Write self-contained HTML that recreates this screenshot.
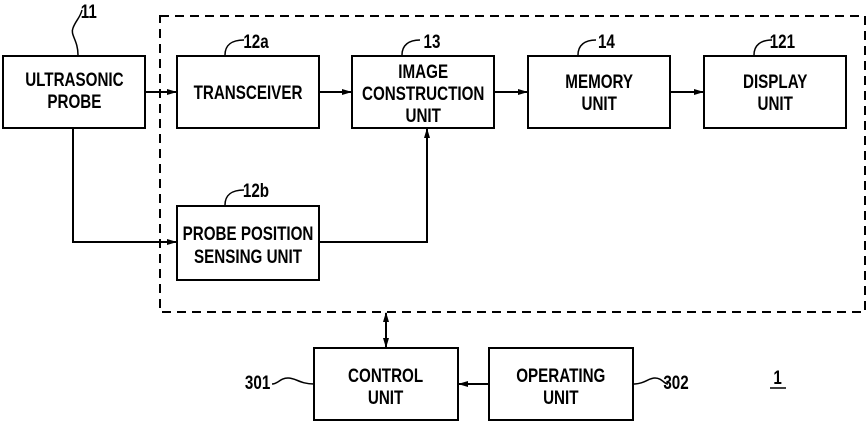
<!DOCTYPE html>
<html><head><style>body{margin:0;background:#fff}svg{display:block}</style></head><body>
<svg width="868" height="422" viewBox="0 0 868 422" xmlns="http://www.w3.org/2000/svg" font-family="Liberation Sans, Arial, sans-serif" font-size="16">
<defs><marker id="a" markerWidth="10" markerHeight="8" refX="9" refY="4" orient="auto" markerUnits="userSpaceOnUse"><path d="M0,1 L10,4 L0,7 z" fill="#000"/></marker>
<marker id="b" markerWidth="10" markerHeight="8" refX="9" refY="4" orient="auto-start-reverse" markerUnits="userSpaceOnUse"><path d="M0,1 L10,4 L0,7 z" fill="#000"/></marker></defs>
<g fill="none" stroke="#000" stroke-width="2">
<rect x="160" y="16" width="705" height="296" stroke-dasharray="9,6"/>
<rect x="3" y="56" width="142" height="72"/>
<rect x="177" y="56" width="142" height="72"/>
<rect x="352" y="56" width="142" height="72"/>
<rect x="528" y="56" width="142" height="72"/>
<rect x="704" y="56" width="142" height="72"/>
<rect x="177" y="206" width="142" height="74"/>
<rect x="314" y="348" width="144" height="72"/>
<rect x="489" y="348" width="144" height="72"/>
<line x1="145" y1="92" x2="176" y2="92" marker-end="url(#a)"/>
<line x1="319" y1="92" x2="351" y2="92" marker-end="url(#a)"/>
<line x1="494" y1="92" x2="527" y2="92" marker-end="url(#a)"/>
<line x1="670" y1="92" x2="703" y2="92" marker-end="url(#a)"/>
<polyline points="73,128 73,242 176,242" marker-end="url(#a)"/>
<polyline points="319,242 427,242 427,129" marker-end="url(#a)"/>
<line x1="386" y1="313" x2="386" y2="347" marker-start="url(#b)" marker-end="url(#b)"/>
<line x1="489" y1="384" x2="459" y2="384" marker-end="url(#a)"/>
<g stroke-width="1.5">
<path d="M78,55 C78,40 70,35 73,28 C76,20 80,18 82,10"/>
<path d="M225,55 C225,45 232,40 244,40"/>
<path d="M402,55 C402,45 409,40 420,40"/>
<path d="M578,55 C578,45 585,40 596,40"/>
<path d="M754,55 C754,45 761,40 772,40"/>
<path d="M225,205 C225,195 232,190 244,190"/>
<path d="M314,384 C300,384 296,378 288,378 C280,378 278,384 272,384"/>
<path d="M633,384 C645,384 648,378 655,378 C662,378 664,384 668,384"/>
</g>
<line x1="770" y1="388" x2="786" y2="388" stroke-width="1.5"/>
</g>
<g text-anchor="middle" font-weight="bold" fill="#000">
<g transform="scale(0.8,1)" font-size="19">
<text x="93" y="86">ULTRASONIC</text><text x="93" y="108">PROBE</text>
<text x="310" y="99">TRANSCEIVER</text>
<text x="529" y="78">IMAGE</text><text x="529" y="100">CONSTRUCTION</text><text x="529" y="122">UNIT</text>
<text x="749" y="88">MEMORY</text><text x="749" y="110">UNIT</text>
<text x="969" y="88">DISPLAY</text><text x="969" y="110">UNIT</text>
<text x="310" y="240">PROBE POSITION</text><text x="310" y="263">SENSING UNIT</text>
<text x="482" y="382">CONTROL</text><text x="482" y="404">UNIT</text>
<text x="701" y="382">OPERATING</text><text x="701" y="404">UNIT</text>
<text x="111" y="18">11</text>
<text x="320" y="48">12a</text>
<text x="540" y="48">13</text>
<text x="758" y="48">14</text>
<text x="978" y="48">121</text>
<text x="320" y="197">12b</text>
<text x="322" y="389">301</text>
<text x="845" y="389">302</text>
<text x="972" y="384">1</text>
</g></g>
</svg>
</body></html>
